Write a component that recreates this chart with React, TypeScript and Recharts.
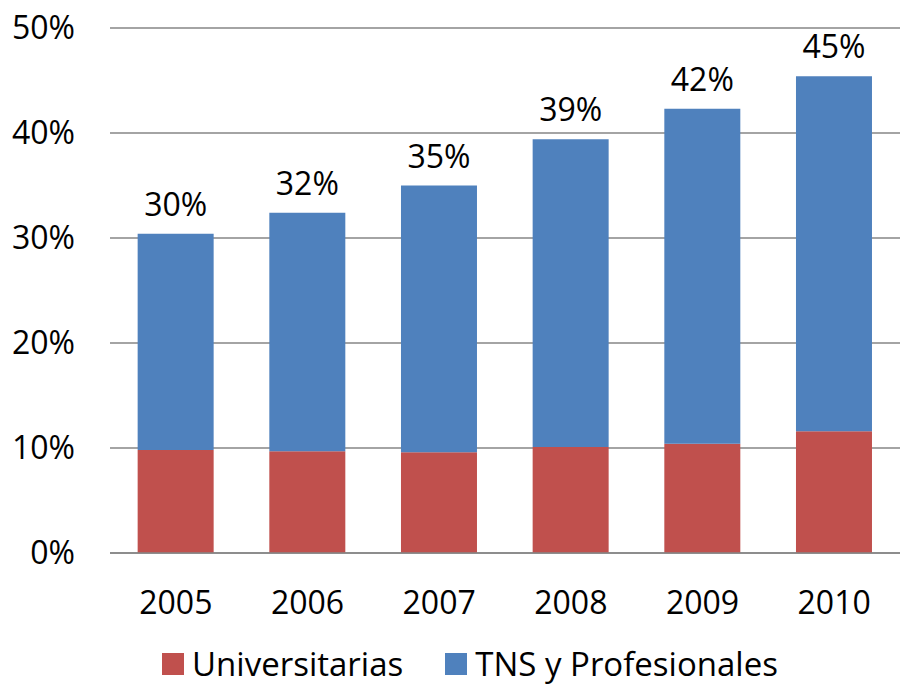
import { BarChart, Bar, XAxis, YAxis, CartesianGrid, Legend, LabelList } from 'recharts'

const years = ['2005', '2006', '2007', '2008', '2009', '2010']
const universitarias = [9.8, 9.7, 9.6, 10.1, 10.4, 11.6]
const tnsProfesionales = [20.6, 22.7, 25.4, 29.3, 31.9, 33.8]
const yTicks = [0, 10, 20, 30, 40, 50]

const RED = '#C0504D'
const BLUE = '#4F81BD'
const FONT = '"Open Sans", sans-serif'

const chartData = years.map((year, i) => ({
  year,
  universitarias: universitarias[i],
  tns: tnsProfesionales[i],
  total: universitarias[i] + tnsProfesionales[i],
}))

const legendItems = [
  { name: 'Universitarias', color: RED },
  { name: 'TNS y Profesionales', color: BLUE },
]

function LegendContent() {
  return (
    <div style={{ display: 'flex', justifyContent: 'center', paddingLeft: 40, paddingTop: 3, fontFamily: FONT, fontSize: 33, color: '#000', lineHeight: '44px' }}>
      {legendItems.map((item) => (
        <div key={item.name} style={{ display: 'flex', alignItems: 'center', margin: '0 21px' }}>
          <span style={{ width: 22, height: 22, background: item.color, marginRight: 8, display: 'inline-block' }} />
          <span>{item.name}</span>
        </div>
      ))}
    </div>
  )
}

export default function App() {
  return (
    <div style={{ position: 'absolute', left: 0, top: 0, width: 900, height: 686, background: '#fff' }}>
      <BarChart
        width={900}
        height={686}
        data={chartData}
        margin={{ top: 28, right: 0, bottom: 0, left: 0 }}
        barCategoryGap="21%"
      >
        <CartesianGrid vertical={false} stroke="#868686" strokeWidth={1.5} />
        <XAxis
          dataKey="year"
          axisLine={{ stroke: '#868686', strokeWidth: 1.5 }}
          tickLine={false}
          tickSize={0}
          tickMargin={38}
          height={86}
          tick={{ fontFamily: FONT, fontSize: 32, fill: '#000' }}
        />
        <YAxis
          domain={[0, 50]}
          ticks={yTicks}
          axisLine={false}
          tickLine={false}
          tickSize={0}
          tickMargin={35}
          width={110}
          tickFormatter={(v: number) => `${v}%`}
          tick={{ fontFamily: FONT, fontSize: 32, fill: '#000' }}
        />
        <Legend verticalAlign="bottom" content={<LegendContent />} />
        <Bar dataKey="universitarias" stackId="a" fill={RED} name="Universitarias" isAnimationActive={false} />
        <Bar dataKey="tns" stackId="a" fill={BLUE} name="TNS y Profesionales" isAnimationActive={false}>
          <LabelList
            dataKey="total"
            position="top"
            offset={18}
            formatter={(v: any) => `${Math.round(Number(v))}%`}
            style={{ fontFamily: FONT, fontSize: 32, fill: '#000' }}
          />
        </Bar>
      </BarChart>
    </div>
  )
}
